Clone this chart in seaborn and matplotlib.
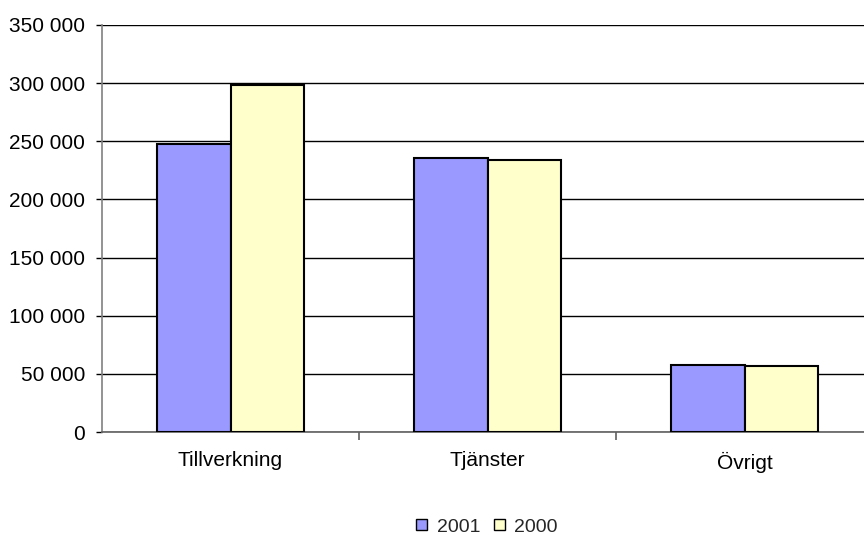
import matplotlib
matplotlib.use("Agg")
import matplotlib.pyplot as plt
import matplotlib.ticker as mticker
from matplotlib.patches import Patch
import seaborn as sns
import pandas as pd

categories = ["Tillverkning", "Tjänster", "Övrigt"]
years = ["2001", "2000"]
values_2001 = [248000, 236000, 58000]
values_2000 = [298000, 234000, 57000]
yticks = [0, 50000, 100000, 150000, 200000, 250000, 300000, 350000]
colors = {"2001": "#9999FF", "2000": "#FFFFCC"}

df = pd.DataFrame({
    "Kategori": categories * 2,
    "År": ["2001"] * 3 + ["2000"] * 3,
    "Värde": values_2001 + values_2000,
})

sns.set_theme(style="white")
plt.rcParams["font.family"] = ["Liberation Sans", "DejaVu Sans"]

fig = plt.figure(figsize=(8.64, 5.35), dpi=100)
# plot area runs slightly past the right edge of the image, as in the reference
ax = fig.add_axes([102 / 864, 1 - 432 / 535, 771 / 864, 407 / 535])

sns.barplot(data=df, x="Kategori", y="Värde", hue="År", hue_order=years,
            palette=colors, width=0.573, gap=0, edgecolor="black", linewidth=1.5,
            saturation=1, legend=False, ax=ax, zorder=3)

ax.set_ylim(0, 350000)
ax.set_xlim(-0.5, 2.5)
ax.set_yticks(yticks)
ax.yaxis.set_major_formatter(mticker.FuncFormatter(lambda v, p: f"{int(v):,}".replace(",", " ")))
ax.yaxis.grid(True, color="black", linewidth=1)
ax.set_axisbelow(True)
ax.set_xlabel("")
ax.set_ylabel("")

for s in ["top", "right"]:
    ax.spines[s].set_visible(False)
ax.spines["left"].set_color("#808080")
ax.spines["left"].set_linewidth(1.2)
ax.spines["bottom"].set_color("#606060")
ax.spines["bottom"].set_linewidth(1.2)

ax.tick_params(axis="y", which="major", left=True, length=4.5, width=1, color="black",
               labelsize=15, labelcolor="black", pad=7.5)
ax.tick_params(axis="x", which="major", bottom=False, length=0, labelsize=15,
               labelcolor="black", pad=14)
ax.set_xticks([0.5, 1.5], minor=True)
ax.tick_params(axis="x", which="minor", bottom=True, length=6, width=1.2, color="#606060")

handles = [Patch(facecolor=colors[y], edgecolor="black", linewidth=1, label=y) for y in years]
fig.legend(handles=handles, loc="center", bbox_to_anchor=(487 / 864, 1 - 527 / 535), ncol=2,
           frameon=False, fontsize=14, handlelength=0.55, handleheight=0.55,
           handletextpad=0.5, columnspacing=0.7, borderpad=0)

fig.savefig("out.png", dpi=100)
